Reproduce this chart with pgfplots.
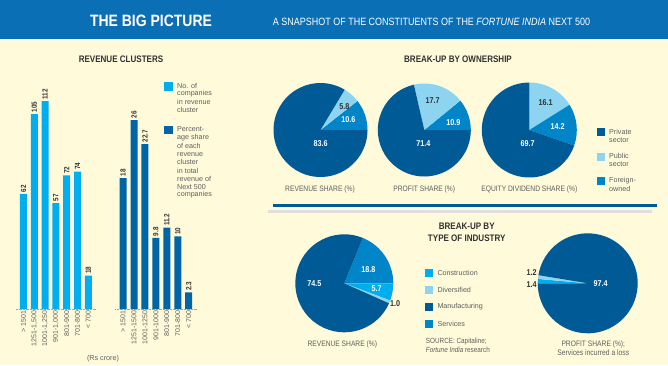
\documentclass[border=0pt]{standalone}
\usepackage{pgfplots}
\pgfplotsset{compat=1.18}
\usepackage{fontspec}
\setmainfont{Liberation Sans}[FakeStretch=0.85]
\newfontfamily\plain{Liberation Sans}
\definecolor{cream}{RGB}{255,250,218}
\definecolor{hdr}{RGB}{10,111,181}
\definecolor{cyanb}{RGB}{0,174,239}
\definecolor{darkb}{RGB}{0,101,167}
\definecolor{pdark}{RGB}{0,90,150}
\definecolor{pmed}{RGB}{0,134,200}
\definecolor{plight}{RGB}{140,212,240}
\definecolor{txt}{RGB}{50,50,50}
\definecolor{gtxt}{RGB}{95,95,95}
\newcommand\fs[1]{\fontsize{#1}{#1}\selectfont}
% slice: color, start angle, signed value (percent), radius (bp)
\newcommand\slice[4]{\fill[#1] (axis cs:0,0) -- ++(#2:#4bp) arc[start angle=#2, delta angle={3.6*(#3)}, radius=#4bp] -- cycle;}
\pgfplotsset{
  barax/.style={scale only axis, anchor=south west, ybar, bar width=7bp,
    xmin=-0.7, xmax=6.7, ymin=0, axis y line=none, axis x line*=bottom,
    x axis line style={-, draw=gray!70, densely dotted},
    xtick={0,...,6}, major tick length=0pt,
    x tick label style={rotate=90, anchor=east, font=\plain\fs{7}, text=gtxt, inner sep=1.5bp},
    nodes near coords, /pgf/number format/assume math mode=true,
    nodes near coords style={rotate=90, anchor=west, font=\bfseries\fs{7.5}, text=txt, inner sep=1.5bp},
    clip=false},
  pieax/.style={hide axis, scale only axis, anchor=center, width=#1, height=#1,
    xmin=-1, xmax=1, ymin=-1, ymax=1, clip=false}
}
\begin{document}
\begin{tikzpicture}[x=1bp,y=-1bp]
\useasboundingbox (0,0) rectangle (668,365);
\fill[cream] (0,0) rectangle (668,365);
\fill[hdr] (0,0) rectangle (668,39);
\node[white, font=\bfseries\fs{16.5}, anchor=base, inner sep=0] at (151,26) {THE BIG PICTURE};
\node[white, font=\fs{10.6}, anchor=base, inner sep=0] at (431.5,25) {A SNAPSHOT OF THE CONSTITUENTS OF THE \textit{FORTUNE INDIA} NEXT 500};

% ---------- Revenue clusters ----------
\node[txt, font=\bfseries\fs{9.5}, inner sep=0] at (121,59) {REVENUE CLUSTERS};
\begin{axis}[barax, at={(15.9bp,-309bp)}, width=80bp, height=222.8bp, ymax=120,
  xticklabels={{> 1501},{1251-1,500},{1001-1,250},{901-1,000},{801-900},{701-800},{< 700}}]
\addplot[fill=cyanb, draw=none] coordinates {(0,62) (1,105) (2,112) (3,57) (4,72) (5,74) (6,18)};
\end{axis}
\begin{axis}[barax, at={(115.4bp,-309bp)}, width=81bp, height=218bp, ymax=30,
  xticklabels={{> 1501},{1251-1500},{1001-1250},{901-1000},{801-900},{701-800},{< 700}}]
\addplot[fill=darkb, draw=none] coordinates {(0,18) (1,26) (2,22.7) (3,9.8) (4,11.2) (5,10) (6,2.3)};
\end{axis}
\node[gtxt, font=\plain\fs{7.2}] at (103,359) {(Rs crore)};
\fill[cyanb] (164,82) rectangle (173,91);
\fill[darkb] (164,126) rectangle (173,134);
\foreach \t [count=\i from 0] in {No. of,companies,in revenue,cluster}
  \node[gtxt, font=\plain\fs{7.2}, anchor=west, inner sep=0] at (177,85.7+8.1*\i) {\t};
\foreach \t [count=\i from 0] in {Percent-,age share,of each,revenue,cluster,in total,revenue of,Next 500,companies}
  \node[gtxt, font=\plain\fs{7.2}, anchor=west, inner sep=0] at (177,129.5+8.2*\i) {\t};

% ---------- Ownership ----------
\node[txt, font=\bfseries\fs{9.5}, inner sep=0] at (458,59.5) {BREAK-UP BY OWNERSHIP};
\begin{axis}[pieax=94bp, at={(320.5bp,-130bp)}]
\slice{pmed}{0}{10.6}{47}
\slice{plight}{38.16}{5.8}{47}
\slice{pdark}{59.04}{83.6}{47}
\end{axis}
\begin{axis}[pieax=93bp, at={(424.3bp,-130bp)}]
\slice{pmed}{0}{10.9}{46.5}
\slice{plight}{39.24}{17.7}{46.5}
\slice{pdark}{102.96}{71.4}{46.5}
\end{axis}
\begin{axis}[pieax=95bp, at={(529.3bp,-130bp)}]
\slice{plight}{90}{-16.1}{47.5}
\slice{pmed}{32.04}{-14.2}{47.5}
\slice{pdark}{-19.08}{-69.7}{47.5}
\end{axis}
\begin{scope}[font=\bfseries\fs{8.5}, inner sep=0]
\node[txt] at (344.3,106.7) {5.8};
\node[white] at (348.3,119.7) {10.6};
\node[white] at (320.7,144) {83.6};
\node[txt] at (432.7,100.7) {17.7};
\node[white] at (453.3,122.7) {10.9};
\node[white] at (423.3,144) {71.4};
\node[txt] at (545.7,102.3) {16.1};
\node[white] at (557.7,126.7) {14.2};
\node[white] at (527.7,144) {69.7};
\end{scope}
\begin{scope}[font=\fs{7.9}, text=gtxt, inner sep=0]
\node at (320,189) {REVENUE SHARE (\%)};
\node at (424.3,189) {PROFIT SHARE (\%)};
\node at (529.3,189) {EQUITY DIVIDEND SHARE (\%)};
\end{scope}
\fill[pdark] (597.3,128.3) rectangle (605,136);
\fill[plight] (597.3,152.7) rectangle (605,160.7);
\fill[pmed] (597.3,177.3) rectangle (605,185);
\begin{scope}[font=\plain\fs{7.2}, text=gtxt, inner sep=0, anchor=west]
\node at (609,131.7) {Private};
\node at (609,140) {sector};
\node at (609,156.3) {Public};
\node at (609,164.3) {sector};
\node at (609,181) {Foreign-};
\node at (609,189) {owned};
\end{scope}

% divider
\draw[gray!25, line width=3bp] (268,211.3) -- (652,211.3);
\draw[pdark, line width=2.8bp] (273,205.3) -- (657,205.3);

% ---------- Industry ----------
\node[txt, font=\bfseries\fs{9.5}, inner sep=0] at (466.7,226) {BREAK-UP BY};
\node[txt, font=\bfseries\fs{9.5}, inner sep=0] at (466.7,238.3) {TYPE OF INDUSTRY};
\begin{axis}[pieax=98bp, at={(344.3bp,-283.3bp)}]
\slice{pmed}{0}{18.8}{49}
\slice{cyanb}{0}{-5.7}{49}
\slice{plight}{-20.52}{-1.0}{49}
\slice{pdark}{-24.12}{-74.5}{49}
\end{axis}
\begin{axis}[pieax=100bp, at={(587.7bp,-283.3bp)}]
\slice{cyanb}{180}{-1.4}{50}
\slice{plight}{174.96}{-1.2}{50}
\slice{pdark}{170.64}{-97.4}{50}
\end{axis}
\begin{scope}[font=\bfseries\fs{8.5}, inner sep=0]
\node[white] at (368.3,269.3) {18.8};
\node[white] at (314.3,284) {74.5};
\node[white] at (376.7,288.3) {5.7};
\node[txt] at (395,303.3) {1.0};
\node[white] at (600.7,284) {97.4};
\node[txt] at (531.7,272.7) {1.2};
\node[txt] at (531.7,284.3) {1.4};
\end{scope}
\fill[cyanb] (425,269) rectangle (432.7,276.7);
\fill[plight] (425,286) rectangle (432.7,293.7);
\fill[pdark] (425,303.3) rectangle (432.7,310.7);
\fill[pmed] (425,320) rectangle (432.7,327.7);
\begin{scope}[font=\plain\fs{7.2}, text=gtxt, inner sep=0, anchor=west]
\node at (437.3,272.5) {Construction};
\node at (437.3,289.7) {Diversified};
\node at (437.3,307) {Manufacturing};
\node at (437.3,323.7) {Services};
\end{scope}
\begin{scope}[font=\fs{7.5}, text=gtxt, inner sep=0, anchor=west]
\node at (425.7,341.7) {SOURCE: Capitaline;};
\node at (425.7,349.7) {\textit{Fortune India} research};
\end{scope}
\begin{scope}[font=\fs{7.9}, text=gtxt, inner sep=0]
\node at (342.3,344) {REVENUE SHARE (\%)};
\node at (593.3,344) {PROFIT SHARE (\%);};
\node[font=\fs{8}] at (593.3,352.7) {Services incurred a loss};
\end{scope}
\end{tikzpicture}
\end{document}
